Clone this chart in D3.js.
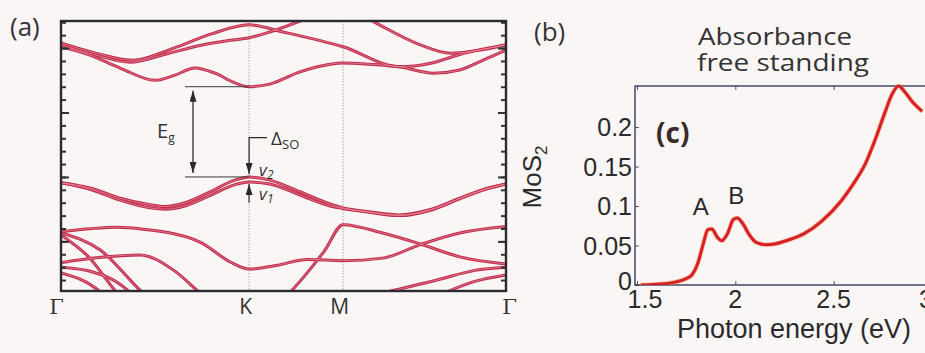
<!DOCTYPE html>
<html><head><meta charset="utf-8">
<script src="https://cdn.jsdelivr.net/npm/d3@7"></script>
<style>html,body{margin:0;padding:0;background:#fbf6f6}svg{display:block}</style>
</head><body>
<svg id="fig" width="925" height="353"></svg>
<script>
// ---------- Panel (a): band structure ----------
const kLabels = ["Γ", "K", "M", "Γ"];
const kPos = [0, 1, 1.5, 2.366];
// each band: list of [k, E(eV)] (VBM = 0)
const bandCB1 = [[0,2.02],[0.154,1.89],[0.314,1.69],[0.5,1.50],[0.606,1.58],[0.712,1.69],[0.819,1.61],[0.925,1.46],[1.0,1.40],[1.11,1.44],[1.27,1.63],[1.43,1.75],[1.5,1.77],[1.64,1.75],[1.80,1.71],[1.98,1.61],[2.12,1.66],[2.25,1.82],[2.366,1.97]];
const bandC2 = [[0,2.05],[0.2,1.88],[0.367,1.78],[0.55,1.90],[0.739,2.04],[0.9,2.12],[1.0,2.16],[1.11,2.25],[1.27,2.42],[1.40,2.58],[1.55,2.58],[1.68,2.38],[1.91,2.05],[2.07,1.92],[2.23,1.97],[2.366,2.05]];
const bandC3 = [[0,2.08],[0.2,1.91],[0.383,1.81],[0.6,2.0],[0.8,2.22],[1.0,2.36],[1.18,2.25],[1.5,2.02],[1.80,1.71],[1.96,1.76],[2.12,1.90],[2.366,2.05]];
const bandV2 = [[0,-0.09],[0.154,-0.17],[0.314,-0.33],[0.473,-0.43],[0.553,-0.46],[0.659,-0.40],[0.792,-0.23],[0.925,-0.05],[1.0,0],[1.11,-0.05],[1.27,-0.23],[1.43,-0.42],[1.5,-0.48],[1.64,-0.54],[1.80,-0.59],[1.96,-0.51],[2.12,-0.33],[2.25,-0.19],[2.366,-0.11]];
const bandV1 = [[0,-0.09],[0.154,-0.19],[0.314,-0.36],[0.473,-0.48],[0.553,-0.50],[0.659,-0.45],[0.792,-0.29],[0.925,-0.12],[1.0,-0.08],[1.11,-0.11],[1.27,-0.28],[1.43,-0.45],[1.5,-0.49],[1.64,-0.55],[1.80,-0.60],[1.96,-0.52],[2.12,-0.34],[2.25,-0.20],[2.366,-0.11]];
const bandV3 = [[0,-0.85],[0.298,-0.78],[0.436,-0.81],[0.739,-1.01],[0.9,-1.32],[1.0,-1.43],[1.15,-1.37],[1.31,-1.28],[1.5,-1.30],[1.71,-1.26],[1.91,-1.05],[2.12,-0.87],[2.366,-0.77]];
const bandV4 = [[1.20,-1.85],[1.30,-1.52],[1.40,-1.15],[1.5,-0.74],[1.71,-0.87],[1.91,-1.04],[2.12,-1.24],[2.366,-1.35]];
const bandV5 = [[0,-0.87],[0.207,-1.13],[0.436,-1.80],[0.5,-1.95]];
const bandV6 = [[0,-0.90],[0.15,-1.25],[0.298,-1.80],[0.35,-1.95]];
const bandV7 = [[0,-1.33],[0.2,-1.25],[0.42,-1.21],[0.6,-1.45],[0.739,-1.80],[0.8,-1.95]];
const bandV8 = [[0,-1.49],[0.207,-1.78],[0.25,-1.9]];
const bandV9 = [[0,-1.40],[0.15,-1.46],[0.35,-1.75],[0.4,-1.9]];
const bandV10 = [[1.68,-1.82],[2.0,-1.60],[2.2,-1.45],[2.366,-1.40]];
const bandV11 = [[2.0,-1.85],[2.2,-1.62],[2.366,-1.52]];
const bands = [bandCB1, bandC2, bandC3, bandV2, bandV1, bandV3, bandV4, bandV5, bandV6, bandV7, bandV8, bandV9, bandV10, bandV11];
const eRange = [-1.77, 2.42];
const eMajor = [-1, 0, 1, 2];
const eMinor = d3.range(-1.6, 2.41, 0.2);
const Eg = [0, 1.40];
const dSO = [0, -0.08];

// ---------- Panel (c): absorbance ----------
const absE = [1.52,1.60,1.70,1.75,1.78,1.81,1.84,1.86,1.88,1.91,1.93,1.96,1.99,2.01,2.04,2.07,2.10,2.13,2.16,2.20,2.27,2.35,2.44,2.54,2.60,2.66,2.72,2.76,2.80,2.83,2.86,2.90,2.95];
const absA = [0,0.001,0.004,0.008,0.013,0.028,0.055,0.070,0.071,0.060,0.056,0.065,0.083,0.085,0.077,0.064,0.055,0.052,0.051,0.052,0.057,0.065,0.081,0.107,0.128,0.153,0.190,0.218,0.243,0.252,0.245,0.232,0.22];
const absXTicks = [1.5, 2, 2.5, 3];
const absXTickLabels = ["1.5", "2", "2.5", "3"];
const absYTicks = [0, 0.05, 0.1, 0.15, 0.2];
const absYTickLabels = ["0", "0.05", "0.1", "0.15", "0.2"];
const peaks = [{name:"A", e:1.86, a:0.071}, {name:"B", e:2.0, a:0.085}];
const titleLines = ["Absorbance", "free standing"];

const svg = d3.select("#fig");
svg.append("rect").attr("width",925).attr("height",353).attr("fill","#fbf6f6");
const defs = svg.append("defs");
defs.append("marker").attr("id","ah").attr("viewBox","0 0 10 10").attr("refX",10).attr("refY",5)
  .attr("markerUnits","userSpaceOnUse").attr("markerWidth",11).attr("markerHeight",7)
  .attr("preserveAspectRatio","none").attr("orient","auto-start-reverse")
  .append("path").attr("d","M0,0L10,5L0,10z").attr("fill","#2a2a2a");

// ===== panel (a) =====
const ax = {l:61, r:506, t:21, b:291};
const x = d3.scaleLinear().domain([0, 2.366]).range([ax.l, ax.r]);
const y = d3.scaleLinear().domain(eRange).range([ax.b, ax.t]);
const ga = svg.append("g");
ga.append("clipPath").attr("id","clipA").append("rect")
  .attr("x",ax.l).attr("y",ax.t).attr("width",ax.r-ax.l).attr("height",ax.b-ax.t);
ga.selectAll("line.hs").data(kPos.slice(1,3)).join("line")
  .attr("x1",d=>x(d)).attr("x2",d=>x(d)).attr("y1",ax.t).attr("y2",ax.b)
  .attr("stroke","#a9a9b4").attr("stroke-width",1).attr("stroke-dasharray","1.5,1.5");
const line = d3.line().x(d=>x(d[0])).y(d=>y(d[1])).curve(d3.curveMonotoneX);
const gb = ga.append("g").attr("clip-path","url(#clipA)");
gb.selectAll("path.b").data(bands).join("path")
  .attr("d",line).attr("fill","none").attr("stroke","#c2284a").attr("stroke-width",3);
gb.selectAll("path.bi").data(bands).join("path")
  .attr("d",line).attr("fill","none").attr("stroke","#e8a0a8").attr("stroke-width",0.8).attr("opacity",0.8);
const yl = d3.axisRight(y).tickValues(eMajor).tickSize(8).tickFormat("");
const yr = d3.axisLeft(y).tickValues(eMajor).tickSize(8).tickFormat("");
const yl2 = d3.axisRight(y).tickValues(eMinor).tickSize(5).tickFormat("");
const yr2 = d3.axisLeft(y).tickValues(eMinor).tickSize(5).tickFormat("");
[[yl,ax.l],[yl2,ax.l],[yr,ax.r],[yr2,ax.r]].forEach(([a,px])=>{
  const g = ga.append("g").attr("transform",`translate(${px},0)`).call(a);
  g.select(".domain").remove();
  g.selectAll("line").attr("stroke","#333").attr("stroke-width",2);
});
ga.append("rect").attr("x",ax.l).attr("y",ax.t).attr("width",ax.r-ax.l).attr("height",ax.b-ax.t)
  .attr("fill","none").attr("stroke","#2b2b33").attr("stroke-width",2.4);
const kShift = [-5, -4, -4, 3];
const xa = d3.axisBottom(x).tickValues(kPos).tickSize(0).tickFormat((d,i)=>kLabels[i]);
const gxa = ga.append("g").attr("transform",`translate(0,${ax.b})`).call(xa);
gxa.select(".domain").remove();
gxa.selectAll("text").attr("font-family",(d,i)=>kLabels[i]==="Γ"?"DejaVu Serif":"Open Sans")
  .attr("font-size",21).attr("fill","#333").attr("dy","0.95em").attr("dx",(d,i)=>kShift[i]);
// Eg annotation
const egx = 193;
ga.selectAll("line.eg").data(Eg).join("line")
  .attr("x1",185).attr("x2",x(1)).attr("y1",d=>y(d)).attr("y2",d=>y(d))
  .attr("stroke","#3a3a3a").attr("stroke-width",1);
ga.append("line").attr("x1",egx).attr("x2",egx).attr("y1",y(Eg[0])-4).attr("y2",y(Eg[1])+4)
  .attr("stroke","#2a2a2a").attr("stroke-width",1.3)
  .attr("marker-start","url(#ah)").attr("marker-end","url(#ah)");
const tEg = ga.append("text").attr("x",157).attr("y",y((Eg[0]+Eg[1])/2)+6)
  .attr("font-family","Open Sans").attr("font-size",20).attr("fill","#333");
tEg.append("tspan").text("E");
tEg.append("tspan").attr("font-size",12).attr("dy",4).text("g");
// Delta SO
const kx = x(1);
ga.append("path").attr("d",`M${kx+18},${y(0.61)}H${kx}V${y(dSO[0])-3}`)
  .attr("fill","none").attr("stroke","#2a2a2a").attr("stroke-width",1.2)
  .attr("marker-end","url(#ah)");
ga.append("line").attr("x1",kx).attr("x2",kx).attr("y1",y(-0.4)).attr("y2",y(dSO[1])+2)
  .attr("stroke","#2a2a2a").attr("stroke-width",1.2).attr("marker-end","url(#ah)");
const tSO = ga.append("text").attr("x",kx+22).attr("y",y(0.61)+7)
  .attr("font-family","Open Sans").attr("font-size",19).attr("fill","#333");
tSO.append("tspan").text("Δ");
tSO.append("tspan").attr("font-size",13).attr("dy",4).text("SO");
[["v","2",y(0)-1],["v","1",y(-0.3)+4]].forEach(([a,b,yy])=>{
  const t = ga.append("text").attr("x",kx+10).attr("y",yy).attr("font-family","Open Sans")
    .attr("font-style","italic").attr("font-size",17).attr("fill","#333");
  t.append("tspan").text(a);
  t.append("tspan").attr("font-size",12).attr("dy",3).text(b);
});
svg.append("text").attr("x",10).attr("y",36).attr("font-family","Open Sans").attr("font-size",26)
  .attr("fill","#333").text("(a)");
svg.append("text").attr("x",534).attr("y",41).attr("font-family","Open Sans").attr("font-size",26)
  .attr("fill","#333").text("(b)");

// ===== panel (c) =====
const cx = {l:635, r:932, t:86, b:285};
const xc = d3.scaleLinear().domain([1.49, 3.0]).range([cx.l, cx.r]);
const yc = d3.scaleLinear().domain([0, 0.252]).range([cx.b, cx.t]);
const gc = svg.append("g");
const ti = (g)=>{g.select(".domain").remove(); g.selectAll("line").attr("stroke","#555").attr("stroke-width",1);};
gc.append("g").attr("transform",`translate(${cx.l},0)`).call(d3.axisRight(yc).tickValues(absYTicks).tickSize(4).tickFormat("")).call(ti);
gc.append("g").attr("transform",`translate(${cx.r},0)`).call(d3.axisLeft(yc).tickValues(absYTicks).tickSize(4).tickFormat("")).call(ti);
gc.append("g").attr("transform",`translate(0,${cx.b})`).call(d3.axisTop(xc).tickValues(absXTicks).tickSize(4).tickFormat("")).call(ti);
gc.append("g").attr("transform",`translate(0,${cx.t})`).call(d3.axisBottom(xc).tickValues(absXTicks).tickSize(4).tickFormat("")).call(ti);
gc.append("rect").attr("x",cx.l).attr("y",cx.t).attr("width",cx.r-cx.l).attr("height",cx.b-cx.t)
  .attr("fill","none").attr("stroke","#2a2d55").attr("stroke-width",1.3);
gc.selectAll("text.yt").data(absYTicks).join("text")
  .attr("x",cx.l-3).attr("y",(d,i)=>yc(d)+(i===0?5:9)).attr("text-anchor","end")
  .attr("font-family","Liberation Sans").attr("font-size",25).attr("fill","#2a2a2a")
  .text((d,i)=>absYTickLabels[i]);
gc.selectAll("text.xt").data(absXTicks).join("text")
  .attr("x",(d,i)=>xc(d)+(i===0?8:i===3?-6:0)).attr("y",cx.b+23).attr("text-anchor","middle")
  .attr("font-family","Liberation Sans").attr("font-size",25).attr("fill","#2a2a2a")
  .text((d,i)=>absXTickLabels[i]);
gc.append("text").attr("x",794).attr("y",338).attr("text-anchor","middle")
  .attr("font-family","Liberation Sans").attr("font-size",27).attr("fill","#2a2a2a").text("Photon energy (eV)");
const ylab = gc.append("text").attr("transform",`translate(541,177) rotate(-90)`).attr("text-anchor","middle")
  .attr("font-family","Liberation Sans").attr("font-size",26).attr("fill","#2a2a2a");
ylab.append("tspan").text("MoS");
ylab.append("tspan").attr("font-size",17).attr("dy",6).text("2");
gc.selectAll("text.title").data(titleLines).join("text")
  .attr("x",(d,i)=>i===0?698:697).attr("y",(d,i)=>i===0?45:71)
  .attr("textLength",(d,i)=>i===0?154:172).attr("lengthAdjust","spacingAndGlyphs")
  .attr("font-family","Open Sans").attr("font-size",24).attr("fill","#333").text(d=>d);
gc.append("text").attr("x",656).attr("y",143)
  .attr("font-family","Open Sans").attr("font-weight","bold").attr("font-size",28).attr("fill","#3a2a2a").text("(c)");
gc.append("clipPath").attr("id","clipC").append("rect").attr("x",cx.l).attr("y",cx.t-2).attr("width",cx.r-cx.l).attr("height",cx.b-cx.t+2);
const absLine = d3.line().x((d,i)=>xc(absE[i])).y(d=>yc(d)).curve(d3.curveMonotoneX);
gc.append("path").attr("clip-path","url(#clipC)").attr("d",absLine(absA)).attr("fill","none")
  .attr("stroke","#f08a3a").attr("stroke-width",4.5).attr("opacity",0.55);
gc.append("path").attr("clip-path","url(#clipC)").attr("d",absLine(absA)).attr("fill","none")
  .attr("stroke","#d8202a").attr("stroke-width",3);
gc.selectAll("text.pk").data(peaks).join("text")
  .attr("x",d=>xc(d.e)-(d.name==="A"?7:-1)).attr("y",d=>yc(d.a)-14).attr("text-anchor","middle")
  .attr("font-family","Liberation Sans").attr("font-size",24).attr("fill","#2a2a2a").text(d=>d.name);
</script>
</body></html>
